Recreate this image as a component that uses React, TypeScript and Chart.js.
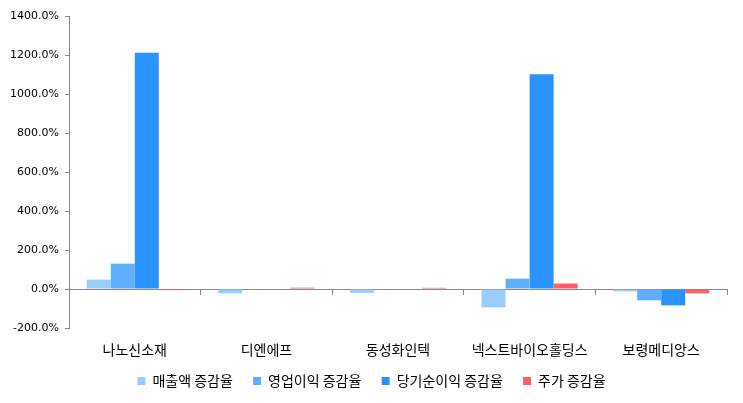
import { useEffect, useRef } from 'react';
import { Chart, ChartConfiguration, registerables } from 'chart.js';

Chart.register(...registerables);

const companies = ['나노신소재', '디엔에프', '동성화인텍', '넥스트바이오홀딩스', '보령메디앙스'];
const salesGrowth = [48, -22, -20, -94, -12];
const opProfitGrowth = [130, 0, 0, 53, -58];
const netIncomeGrowth = [1212, 0, 0, 1101, -84];
const stockGrowth = [-6, 7, 6, 28, -22];
const yTicks = [-200, 0, 200, 400, 600, 800, 1000, 1200, 1400];

const KR_FONT = '"Noto Sans CJK KR", "DejaVu Sans", sans-serif';

export default function App() {
  const chartRef = useRef<HTMLCanvasElement>(null);
  const chartInstance = useRef<Chart | null>(null);

  useEffect(() => {
    document.body.style.margin = '0';
    if (!chartRef.current) return;
    if (chartInstance.current) chartInstance.current.destroy();
    const ctx = chartRef.current.getContext('2d');
    if (!ctx) return;

    const config: ChartConfiguration = {
      type: 'bar',
      data: {
        labels: companies,
        datasets: [
          { label: '매출액 증감율', data: salesGrowth, backgroundColor: '#99CCFF' },
          { label: '영업이익 증감율', data: opProfitGrowth, backgroundColor: '#5FAEFF' },
          { label: '당기순이익 증감율', data: netIncomeGrowth, backgroundColor: '#2B93FF' },
          { label: '주가 증감율', data: stockGrowth, backgroundColor: '#FF5F63' },
        ],
      },
      options: {
        responsive: false,
        animation: false,
        maintainAspectRatio: false,
        layout: { padding: { top: 16, right: 0, left: 0, bottom: 5 } },
        datasets: {
          bar: { categoryPercentage: 0.73, barPercentage: 1 },
        },
        plugins: {
          tooltip: { enabled: false },
          legend: {
            position: 'bottom',
            labels: {
              boxWidth: 8,
              boxHeight: 8,
              padding: 14,
              color: '#000',
              font: { family: KR_FONT, size: 14 },
              // a little extra room between items, like the original
              generateLabels: (chart: Chart) => {
                const items = Chart.defaults.plugins.legend.labels.generateLabels(chart);
                return items.map((item, i) =>
                  i < items.length - 1 ? { ...item, text: item.text + '  ' } : item
                );
              },
            },
          },
        },
        scales: {
          x: {
            position: 'bottom',
            border: { display: false },
            grid: { display: false, drawTicks: false },
            afterFit: (scale: any) => {
              scale.height = 32;
            },
            ticks: {
              color: '#000',
              padding: 13,
              font: { family: KR_FONT, size: 14 },
            },
          },
          xZero: {
            type: 'category',
            labels: companies,
            position: { y: 0 },
            afterFit: (scale: any) => {
              scale.height = 0;
            },
            border: { display: true, color: '#888', width: 1 },
            grid: {
              offset: true,
              drawOnChartArea: false,
              drawTicks: true,
              tickLength: 5,
              tickColor: '#888',
              lineWidth: 1,
            },
            ticks: { callback: () => '' },
          } as any,
          y: {
            min: -200,
            max: 1400,
            afterBuildTicks: (scale: any) => {
              scale.ticks = yTicks.map((v) => ({ value: v }));
            },
            afterFit: (scale: any) => {
              scale.width = 69;
            },
            border: { display: true, color: '#888', width: 1 },
            grid: {
              drawOnChartArea: false,
              drawTicks: true,
              tickLength: 4,
              tickColor: '#888',
              lineWidth: 1,
            },
            ticks: {
              color: '#000',
              padding: 6,
              font: { family: '"DejaVu Sans", sans-serif', size: 11 },
              callback: (value: any) => `${Number(value).toFixed(1)}%`,
            },
          },
          // empty right-hand margin so the plot ends where the original does
          yRight: {
            position: 'right',
            border: { display: false },
            grid: { display: false },
            ticks: { display: false },
            afterFit: (scale: any) => {
              scale.width = 16;
            },
          } as any,
        },
      },
    };

    chartInstance.current = new Chart(ctx, config);

    return () => {
      if (chartInstance.current) chartInstance.current.destroy();
    };
  }, []);

  return (
    <div style={{ width: 743, height: 403, background: '#fff' }}>
      <canvas ref={chartRef} width={743} height={403}></canvas>
    </div>
  );
}
